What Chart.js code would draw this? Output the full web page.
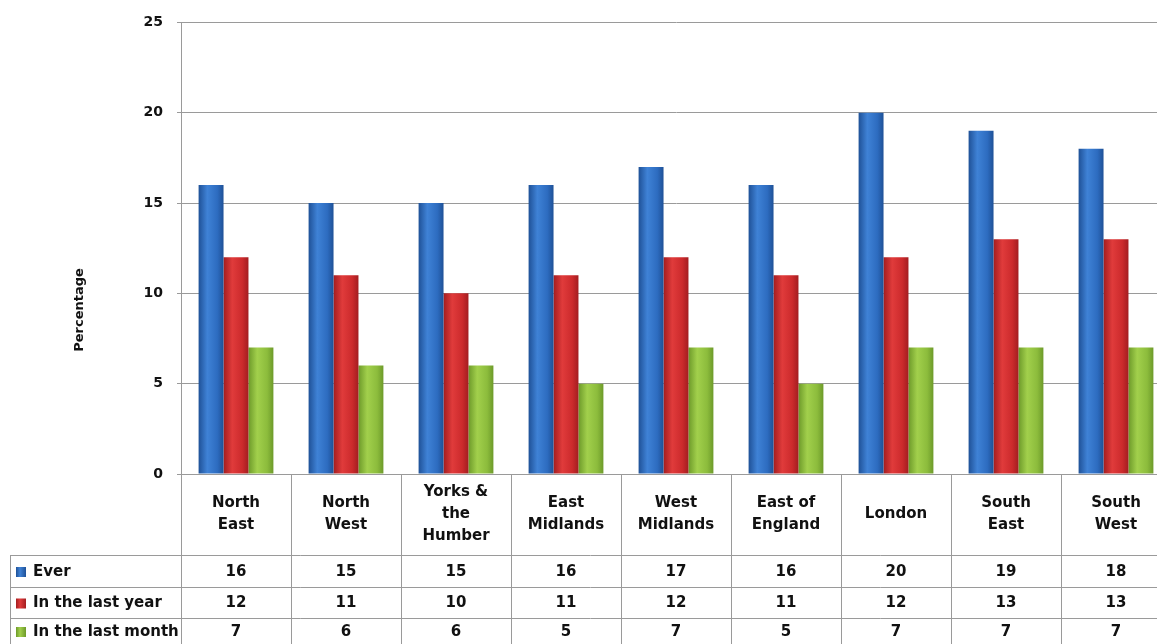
<!DOCTYPE html>
<html>
<head>
    <meta charset="UTF-8">
    <script src="https://cdn.jsdelivr.net/npm/chart.js@4/dist/chart.umd.min.js"></script>
    <style>
        html, body {
            margin: 0;
            padding: 0;
            background: #fff;
            overflow: hidden;
        }
        #wrap {
            width: 1175px;
            height: 644px;
        }
    </style>
</head>
<body>

<div id="wrap">
    <canvas id="regionChart" width="1175" height="644"></canvas>
</div>

<script>
// regions along the x axis (multi-line labels as drawn in the table header)
const categories = [
    ['North', 'East'],
    ['North', 'West'],
    ['Yorks &', 'the', 'Humber'],
    ['East', 'Midlands'],
    ['West', 'Midlands'],
    ['East of', 'England'],
    ['London'],
    ['South', 'East'],
    ['South', 'West']
];

const seriesNames = ['Ever', 'In the last year', 'In the last month'];
const ever      = [16, 15, 15, 16, 17, 16, 20, 19, 18];
const lastYear  = [12, 11, 10, 11, 12, 11, 12, 13, 13];
const lastMonth = [7, 6, 6, 5, 7, 5, 7, 7, 7];

const yTitle = 'Percentage';

const FONT = '"DejaVu Sans", Verdana, sans-serif';
const GRID = '#9a9a9a';

// colours: [flat, edge, highlight]
const colours = [
    ['#2d6cc0', '#1f5197', '#3f82d6'],
    ['#cc2a2c', '#a31d20', '#e03b3b'],
    ['#8cbc3c', '#6d9a2a', '#a2d04c']
];

const CAT_PCT = 0.68;

function barFill(k) {
    return function (ctx) {
        const chart = ctx.chart;
        const xs = chart.scales && chart.scales.x;
        if (!chart.chartArea || !xs) return colours[k][0];
        const colW = (xs.right - xs.left) / categories.length;
        const bw = colW * CAT_PCT / 3;
        const cx = xs.getPixelForValue(ctx.dataIndex) + (k - 1) * bw;
        const g = chart.ctx.createLinearGradient(cx - bw / 2, 0, cx + bw / 2, 0);
        g.addColorStop(0, colours[k][1]);
        g.addColorStop(0.35, colours[k][2]);
        g.addColorStop(0.75, colours[k][0]);
        g.addColorStop(1, colours[k][1]);
        return g;
    };
}

// data table under the plot, the y title, and legend keys
const tablePlugin = {
    id: 'dataTable',
    afterDraw(chart) {
        const ctx = chart.ctx;
        const xs = chart.scales.x;
        const area = chart.chartArea;
        const n = categories.length;
        const colW = (xs.right - xs.left) / n;
        const top = area.bottom;            // 474
        const rowTops = [555, 587, 618, 650];
        const tableLeft = 10;
        const values = [ever, lastYear, lastMonth];

        ctx.save();
        ctx.strokeStyle = GRID;
        ctx.lineWidth = 1;

        // horizontal rules
        ctx.beginPath();
        ctx.moveTo(xs.left, top + 0.5);
        ctx.lineTo(xs.right, top + 0.5);
        rowTops.forEach(function (y) {
            ctx.moveTo(tableLeft, y + 0.5);
            ctx.lineTo(xs.right, y + 0.5);
        });
        // vertical rules
        for (let k = 0; k <= n; k++) {
            const x = Math.round(xs.left + k * colW) + 0.5;
            ctx.moveTo(x, top);
            ctx.lineTo(x, 650);
        }
        ctx.moveTo(tableLeft + 0.5, rowTops[0]);
        ctx.lineTo(tableLeft + 0.5, 650);
        ctx.stroke();

        ctx.fillStyle = '#111';
        ctx.textAlign = 'center';
        ctx.textBaseline = 'middle';
        ctx.font = 'bold 15px ' + FONT;

        // header: category names
        const headMid = (top + rowTops[0]) / 2;
        categories.forEach(function (lines, i) {
            const cx = xs.getPixelForValue(i);
            const lh = 22;
            const y0 = headMid - (lines.length - 1) * lh / 2;
            lines.forEach(function (t, j) {
                ctx.fillText(t, cx, y0 + j * lh);
            });
        });

        // rows
        values.forEach(function (vals, r) {
            const yMid = (rowTops[r] + Math.min(rowTops[r + 1], 644)) / 2 + 1;
            // legend key
            const kx = 16, ks = 10;
            const g = ctx.createLinearGradient(kx, 0, kx + ks, 0);
            g.addColorStop(0, colours[r][1]);
            g.addColorStop(0.4, colours[r][2]);
            g.addColorStop(1, colours[r][1]);
            ctx.fillStyle = g;
            ctx.fillRect(kx, yMid - ks / 2, ks, ks);

            ctx.fillStyle = '#111';
            ctx.textAlign = 'left';
            ctx.fillText(seriesNames[r], 33, yMid);

            ctx.textAlign = 'center';
            vals.forEach(function (v, i) {
                ctx.fillText(String(v), xs.getPixelForValue(i), yMid);
            });
        });

        // y axis title
        ctx.translate(80, 310);
        ctx.rotate(-Math.PI / 2);
        ctx.font = 'bold 13px ' + FONT;
        ctx.textAlign = 'center';
        ctx.fillText(yTitle, 0, 0);
        ctx.restore();
    }
};

new Chart(document.getElementById('regionChart'), {
    type: 'bar',
    data: {
        labels: categories,
        datasets: [
            { label: seriesNames[0], data: ever,      backgroundColor: barFill(0) },
            { label: seriesNames[1], data: lastYear,  backgroundColor: barFill(1) },
            { label: seriesNames[2], data: lastMonth, backgroundColor: barFill(2) }
        ]
    },
    options: {
        responsive: false,
        animation: false,
        devicePixelRatio: 1,
        layout: {
            padding: { left: 0, top: 22, right: 4, bottom: 170 }
        },
        datasets: {
            bar: {
                categoryPercentage: CAT_PCT,
                barPercentage: 1.0,
                borderWidth: 0
            }
        },
        plugins: {
            legend: { display: false },
            tooltip: { enabled: false }
        },
        scales: {
            x: {
                display: false
            },
            y: {
                min: 0,
                max: 25,
                ticks: {
                    stepSize: 5,
                    color: '#111',
                    padding: 14,
                    font: { family: FONT, size: 14, weight: 'bold' }
                },
                grid: {
                    color: GRID,
                    tickLength: 4,
                    tickColor: GRID
                },
                border: { color: GRID },
                afterFit(scale) {
                    scale.width = 181;
                }
            }
        }
    },
    plugins: [tablePlugin]
});
</script>

</body>
</html>
